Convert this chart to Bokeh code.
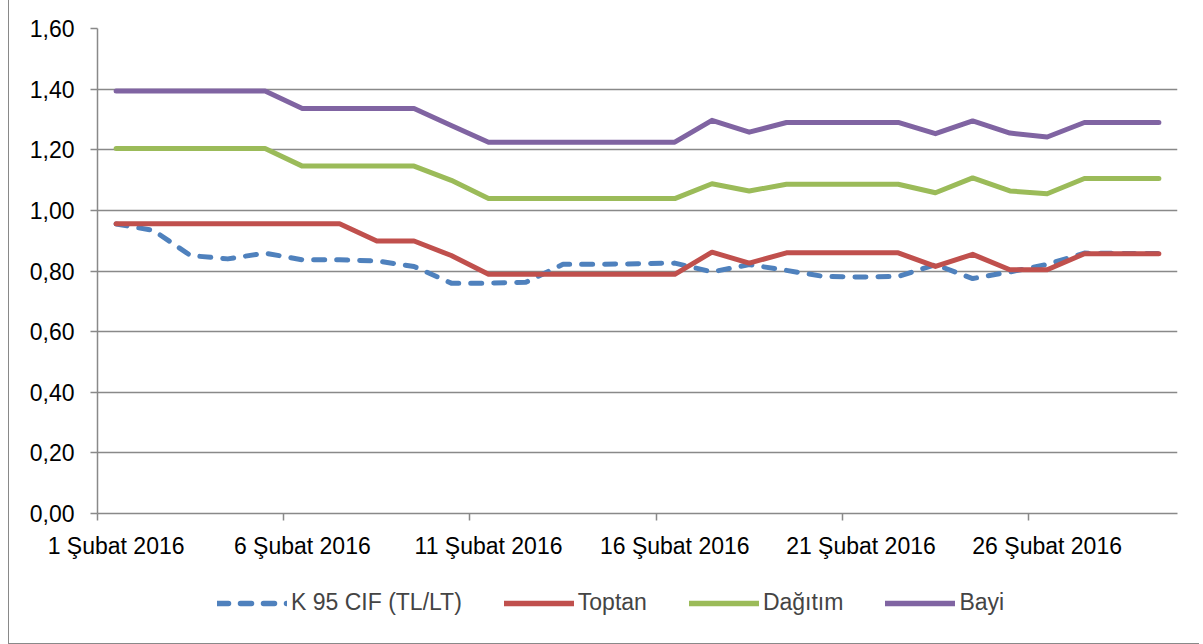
from bokeh.plotting import figure
from bokeh.models import Range1d, FixedTicker, Legend, LegendItem, LinearAxis
from bokeh.layouts import column
from bokeh.embed import file_html
from bokeh.resources import INLINE

# ---- data ----
days = list(range(1, 30))  # 1..29 Şubat 2016
k95_cif = [0.955, 0.934, 0.851, 0.840, 0.859, 0.837, 0.837, 0.833, 0.815, 0.760,
           0.760, 0.763, 0.822, 0.822, 0.824, 0.826, 0.797, 0.821, 0.802, 0.782,
           0.780, 0.782, 0.821, 0.775, 0.797, 0.822, 0.859, 0.858, 0.858]
toptan = [0.956, 0.956, 0.956, 0.956, 0.956, 0.956, 0.956, 0.899, 0.899, 0.851,
          0.789, 0.789, 0.789, 0.789, 0.789, 0.789, 0.862, 0.826, 0.860, 0.860,
          0.860, 0.860, 0.815, 0.855, 0.804, 0.804, 0.857, 0.857, 0.857]
dagitim = [1.204, 1.204, 1.204, 1.204, 1.204, 1.146, 1.146, 1.146, 1.146, 1.099,
           1.039, 1.039, 1.039, 1.039, 1.039, 1.039, 1.088, 1.064, 1.086, 1.086,
           1.086, 1.086, 1.058, 1.107, 1.064, 1.055, 1.105, 1.105, 1.105]
bayi = [1.394, 1.394, 1.394, 1.394, 1.394, 1.336, 1.336, 1.336, 1.336, 1.280,
        1.225, 1.225, 1.225, 1.225, 1.225, 1.225, 1.297, 1.258, 1.290, 1.290,
        1.290, 1.290, 1.253, 1.295, 1.255, 1.242, 1.290, 1.290, 1.290]

series_names = ["K 95 CIF (TL/LT)", "Toptan", "Dağıtım", "Bayi"]
x_tick_days = [1, 6, 11, 16, 21, 26]
x_tick_labels = ["1 Şubat 2016", "6 Şubat 2016", "11 Şubat 2016",
                 "16 Şubat 2016", "21 Şubat 2016", "26 Şubat 2016"]
y_ticks = [0.0, 0.2, 0.4, 0.6, 0.8, 1.0, 1.2, 1.4, 1.6]
y_tick_labels = ["0,00", "0,20", "0,40", "0,60", "0,80", "1,00", "1,20", "1,40", "1,60"]

FONT = "Liberation Sans"
FS = "23px"
LFS = "23px"
GRID = "#898989"
colors = ["#4F81BD", "#C0504D", "#9BBB59", "#8064A2"]
dashes = ["11 12", "solid", "solid", "solid"]

W = 1190
p = figure(width=W, height=563, output_backend="svg", toolbar_location=None,
           x_range=Range1d(0.5, 29.5), y_range=Range1d(0, 1.6),
           min_border_left=88, min_border_right=22, min_border_top=28,
           min_border_bottom=50)
p.outline_line_color = None

# x axis 1: tick marks between categories (no labels)
xt = [d - 0.5 for d in x_tick_days]
ax1 = p.xaxis[0]
ax1.ticker = FixedTicker(ticks=xt)
ax1.major_label_overrides = {t: "" for t in xt}
ax1.major_label_text_font_size = "1px"
ax1.major_label_standoff = 0
ax1.minor_tick_line_color = None
ax1.major_tick_in = 0
ax1.major_tick_out = 7
ax1.axis_line_color = GRID
ax1.axis_line_width = 1.5
ax1.major_tick_line_color = GRID
ax1.major_tick_line_width = 1.5
p.xgrid.grid_line_color = None

# x axis 2: labels centred on the categories
ax2 = LinearAxis(ticker=FixedTicker(ticks=x_tick_days),
                 major_label_overrides={d: lab for d, lab in zip(x_tick_days, x_tick_labels)})
ax2.axis_line_color = None
ax2.major_tick_line_color = None
ax2.minor_tick_line_color = None
ax2.major_tick_in = 0
ax2.major_tick_out = 0
ax2.major_label_standoff = 12
ax2.major_label_text_font = FONT
ax2.major_label_text_font_size = FS
ax2.major_label_text_color = "black"
p.add_layout(ax2, "below")

yax = p.yaxis[0]
yax.ticker = FixedTicker(ticks=y_ticks)
yax.major_label_overrides = {t: lab for t, lab in zip(y_ticks, y_tick_labels)}
yax.minor_tick_line_color = None
yax.major_tick_in = 0
yax.major_tick_out = 7
yax.major_label_standoff = 16
yax.axis_line_color = GRID
yax.axis_line_width = 1.5
yax.major_tick_line_color = GRID
yax.major_tick_line_width = 1.5
yax.major_label_text_font = FONT
yax.major_label_text_font_size = FS
yax.major_label_text_color = "black"
p.ygrid.grid_line_color = GRID
p.ygrid.grid_line_width = 1.5

data = [k95_cif, toptan, dagitim, bayi]
for vals, c, d in zip(data, colors, dashes):
    p.line(days, vals, line_color=c, line_width=5, line_dash=d,
           line_cap="round", line_join="round")

# legend strip below the chart (its lines sit outside its visible range)
lg = figure(width=W, height=80, output_backend="svg", toolbar_location=None,
            x_range=Range1d(0, 1), y_range=Range1d(0, 1),
            x_axis_type=None, y_axis_type=None,
            min_border_left=0, min_border_right=0, min_border_top=0, min_border_bottom=0)
lg.outline_line_color = None
lg.grid.grid_line_color = None
items = []
for name, c, d in zip(series_names, colors, dashes):
    r = lg.line([5, 6], [5, 6], line_color=c, line_width=5.5, line_dash=d, line_cap="round")
    items.append(LegendItem(label=name, renderers=[r]))

legend = Legend(items=items, orientation="horizontal", location=(120, 27),
                glyph_width=70, glyph_height=24, label_height=24,
                label_standoff=4, spacing=42, padding=0, margin=0,
                border_line_color=None, background_fill_alpha=0,
                label_text_font=FONT, label_text_font_size=LFS)
lg.add_layout(legend, "center")

layout = column(p, lg, spacing=0)
layout.styles = {"margin-left": "8px",
                 "border-left": f"1px solid {GRID}", "border-bottom": f"1px solid {GRID}"}

open("out.html", "w").write(file_html(layout, INLINE))
